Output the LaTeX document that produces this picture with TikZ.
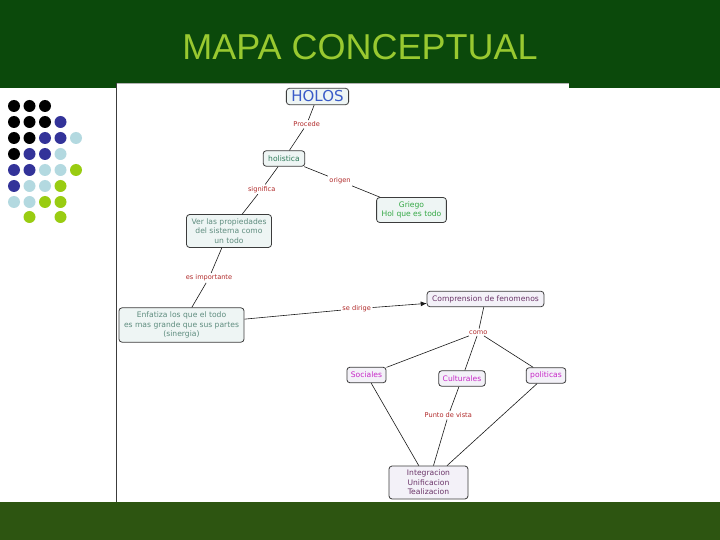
\documentclass[tikz,border=0pt]{standalone}
\usepackage{fontspec}
\setmainfont{DejaVu Sans}
\newfontfamily\titulo{Liberation Sans}
\usetikzlibrary{arrows.meta}
\definecolor{verdeosc}{HTML}{0B490B}
\definecolor{verdepie}{HTML}{2D5511}
\definecolor{lima}{HTML}{99C930}
\definecolor{negro}{HTML}{000000}
\definecolor{azul}{HTML}{333399}
\definecolor{celeste}{HTML}{B3D9E0}
\definecolor{verde}{HTML}{99CC11}
\definecolor{borde}{HTML}{3C3C3C}
\definecolor{fondo}{HTML}{EEF5F4}
\definecolor{fondolila}{HTML}{F3F1F8}
\definecolor{rojo}{HTML}{B02828}
\definecolor{azultx}{HTML}{3A5BC8}
\definecolor{verdetx}{HTML}{2F7A5A}
\definecolor{verdeclaro}{HTML}{35A845}
\definecolor{grisverde}{HTML}{5E8C7E}
\definecolor{magenta}{HTML}{C726C7}
\definecolor{morado}{HTML}{6A3468}

\tikzset{
  concepto/.style={draw=borde, fill=fondo, rounded corners=3pt, line width=0.8pt,
                   font=\fontsize{7.6}{9.5}\selectfont, align=center,
                   inner xsep=5pt, inner ysep=4pt, minimum height=15.5pt},
  lila/.style={concepto, fill=fondolila},
  enlace/.style={text=rojo, font=\fontsize{6.6}{8}\selectfont, inner sep=1.5pt},
  linea/.style={draw=black!90, line width=0.6pt}
}

\begin{document}
\begin{tikzpicture}[x=1pt, y=-1pt]
    \useasboundingbox (0,0) rectangle (720,540);
    % fondo de la diapositiva
    \fill[white] (0,0) rectangle (720,540);
    \fill[verdeosc] (0,0) rectangle (720,88);
    \fill[verdepie] (0,502) rectangle (720,540);
    \node[text=lima, font=\titulo\fontsize{36}{40}\selectfont] (tit) at (360,47) {MAPA CONCEPTUAL};
    % puntos decorativos
    \foreach \y/\lista in {106/{negro,negro,negro},
                           122/{negro,negro,negro,azul},
                           138/{negro,negro,azul,azul,celeste},
                           154/{negro,azul,azul,celeste},
                           170/{azul,azul,celeste,celeste,verde},
                           186/{azul,celeste,celeste,verde},
                           202/{celeste,celeste,verde,verde},
                           217/{none,verde,none,verde}}
      \foreach \c [count=\i] in \lista
        \fill[fill=\c] (\i*15.5-1.5,\y) circle (6);
    % marco del mapa
    \fill[white] (116,83) rectangle (569,502);
    \draw[gray!60, line width=0.6pt] (116,83) -- (569,83);
    \draw[borde, line width=1pt] (116,83) -- (116,502);
    % conceptos
    \node[concepto, text=azultx, font=\fontsize{15}{17}\selectfont, inner ysep=2.5pt] (holos) at (317.5,96.5) {HOLOS};
    \node[concepto, text=verdetx] (holistica) at (284,158.5) {holistica};
    \node[concepto, text=verdeclaro] (griego) at (411.5,210) {Griego\\Hol que es todo};
    \node[concepto, text=grisverde] (ver) at (229,231) {Ver las propiedades\\del sistema como\\un todo};
    \node[concepto, text=grisverde] (enfatiza) at (181.5,325) {Enfatiza los que el todo\\es mas grande que sus partes\\(sinergia)};
    \node[lila, text=morado] (compren) at (485.5,299) {Comprension de fenomenos};
    \node[lila, text=magenta, inner xsep=4pt] (sociales) at (366.5,375) {Sociales};
    \node[lila, text=magenta, inner xsep=4pt] (culturales) at (462,378.5) {Culturales};
    \node[lila, text=magenta, inner xsep=4pt] (politicas) at (546,375.5) {politicas};
    \node[lila, text=morado, minimum width=79pt] (integra) at (428.5,482.5) {Integracion\\Unificacion\\Tealizacion};
    % palabras de enlace
    \node[enlace] (procede) at (306.7,124.3) {Procede};
    \node[enlace] (significa) at (261.7,189.3) {significa};
    \node[enlace] (origen) at (340,181) {origen};
    \node[enlace] (esimp) at (209,278) {es importante};
    \node[enlace] (sedirige) at (356.7,308.7) {se dirige};
    \node[enlace] (como) at (478.3,332.3) {como};
    \node[enlace] (punto) at (448.3,415.3) {Punto de vista};
    % conectores
    \draw[linea] (holos) -- (procede) -- (holistica);
    \draw[linea] (holistica) -- (significa) -- (ver);
    \draw[linea] (holistica) -- (origen) -- (griego);
    \draw[linea] (ver) -- (esimp) -- (enfatiza);
    \draw[linea] (enfatiza) -- (sedirige);
    \draw[linea, -{Latex[length=6pt,width=5pt]}] (sedirige) -- (compren);
    \draw[linea] (compren) -- (como);
    \draw[linea] (como) -- (sociales);
    \draw[linea] (como) -- (culturales);
    \draw[linea] (como) -- (politicas);
    \draw[linea] (sociales) -- (integra);
    \draw[linea] (culturales) -- (punto) -- (integra);
    \draw[linea] (politicas) -- (integra);
  \end{tikzpicture}
\end{document}
